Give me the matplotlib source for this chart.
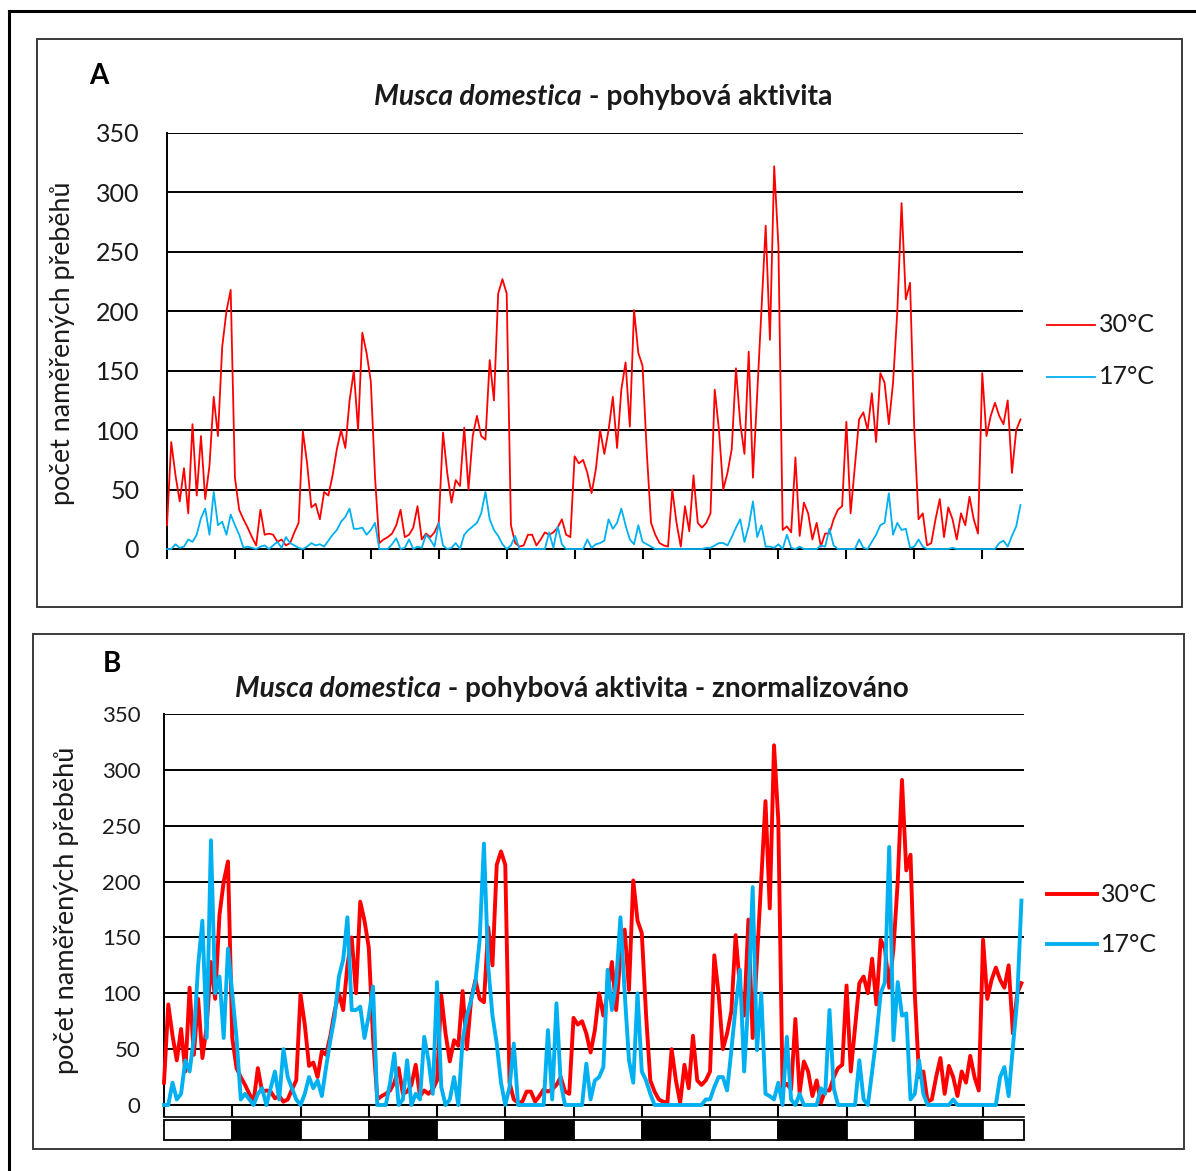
import matplotlib
matplotlib.use('Agg')
import matplotlib.pyplot as plt
from matplotlib.patches import Rectangle
from matplotlib.lines import Line2D
from matplotlib.transforms import blended_transform_factory
import numpy as np

plt.rcParams['font.family'] = ['Lato', 'DejaVu Sans']

# ---------------- data (45-min bins, 16 bins per 12 h) ----------------
bin_hours = 0.75
red_30 = [
    # day 0 / night 0
    20, 90, 62, 40, 68, 30, 105, 45, 95, 42, 70, 128, 95, 170, 200, 218,
    60, 33, 25, 18, 10, 3, 33, 12, 13, 12, 6, 8, 3, 5, 14, 22,
    # day 1 / night 1
    99, 72, 35, 38, 25, 48, 45, 62, 84, 100, 85, 125, 150, 100, 182, 165,
    141, 60, 5, 8, 10, 13, 20, 33, 10, 12, 18, 36, 8, 13, 10, 14,
    # day 2 / night 2
    22, 98, 64, 39, 58, 53, 102, 50, 95, 112, 95, 92, 159, 125, 215, 227,
    215, 20, 5, 2, 3, 12, 12, 3, 8, 14, 12, 14, 18, 25, 12, 10,
    # day 3 / night 3
    78, 72, 75, 64, 47, 67, 100, 80, 100, 128, 85, 134, 157, 103, 201, 165,
    154, 81, 22, 12, 5, 3, 2, 50, 22, 2, 36, 15, 62, 22, 18, 22,
    # day 4 / night 4
    30, 134, 100, 50, 64, 84, 152, 106, 80, 166, 60, 130, 201, 272, 176, 322,
    255, 16, 19, 14, 77, 11, 39, 30, 8, 22, 2, 13, 13, 25, 33, 36,
    # day 5 / night 5
    107, 30, 70, 109, 115, 100, 131, 90, 148, 140, 105, 140, 200, 291, 210, 224,
    100, 25, 30, 3, 5, 25, 42, 10, 35, 25, 8, 30, 20, 44, 25, 13,
    # day 6 (partial)
    148, 95, 112, 123, 112, 105, 125, 64, 100, 109,
]

blue_17 = [
    0, 0, 4, 1, 2, 8, 6, 12, 26, 34, 12, 48, 20, 23, 12, 29,
    20, 12, 1, 2, 1, 0, 2, 3, 0, 3, 6, 1, 10, 5, 3, 1,
    0, 2, 5, 3, 4, 2, 7, 12, 16, 23, 27, 34, 17, 17, 18, 12,
    16, 22, 0, 0, 0, 4, 9, 0, 1, 8, 0, 2, 1, 12, 8, 2,
    22, 3, 0, 1, 5, 0, 12, 16, 19, 22, 30, 48, 25, 16, 11, 4,
    0, 3, 11, 0, 0, 0, 0, 0, 0, 0, 14, 1, 19, 4, 0, 0,
    0, 0, 0, 8, 1, 4, 5, 7, 25, 17, 22, 34, 20, 8, 4, 20,
    6, 4, 2, 0, 0, 0, 0, 0, 0, 0, 0, 0, 0, 0, 0, 1,
    1, 3, 5, 5, 3, 10, 18, 25, 6, 19, 40, 10, 20, 2, 2, 1,
    4, 0, 12, 1, 0, 2, 0, 0, 0, 0, 3, 2, 17, 3, 0, 0,
    0, 0, 0, 8, 1, 0, 6, 12, 20, 22, 47, 12, 22, 16, 17, 1,
    2, 8, 2, 0, 0, 0, 0, 0, 0, 1, 0, 0, 0, 0, 0, 0,
    0, 0, 0, 0, 5, 7, 2, 11, 19, 37,
]

blue_17_norm = [
    0, 0, 20, 5, 10, 40, 30, 60, 125, 165, 60, 237, 100, 115, 60, 140,
    100, 60, 5, 10, 5, 0, 10, 15, 0, 15, 30, 5, 50, 25, 15, 5,
    0, 10, 25, 15, 22, 8, 34, 58, 79, 115, 130, 168, 85, 85, 88, 60,
    80, 106, 0, 0, 0, 20, 46, 0, 5, 40, 0, 10, 5, 61, 40, 10,
    110, 16, 0, 5, 25, 0, 58, 80, 94, 110, 148, 234, 124, 80, 55, 20,
    0, 16, 55, 0, 0, 0, 0, 0, 0, 0, 67, 5, 91, 20, 0, 0,
    0, 0, 0, 37, 5, 22, 25, 34, 121, 85, 110, 168, 100, 40, 20, 100,
    30, 22, 10, 0, 0, 0, 0, 0, 0, 0, 0, 0, 0, 0, 0, 5,
    5, 16, 25, 25, 13, 49, 88, 121, 30, 95, 195, 49, 100, 10, 8, 5,
    20, 0, 61, 5, 0, 10, 0, 0, 0, 0, 15, 10, 85, 15, 0, 0,
    0, 0, 0, 40, 5, 0, 30, 61, 100, 110, 231, 58, 110, 80, 82, 5,
    10, 40, 10, 0, 0, 0, 0, 0, 0, 5, 0, 0, 0, 0, 0, 0,
    0, 0, 0, 0, 25, 34, 8, 52, 94, 183,
]

series_labels = ['30°C', '17°C']
y_ticks = [0, 50, 100, 150, 200, 250, 300, 350]
light_phases = ['light', 'dark'] * 6 + ['light']
phase_hours = 12
title_italic = 'Musca domestica'
title_A_rest = ' - pohybová aktivita'
title_B_rest = ' - pohybová aktivita - znormalizováno'
ylabel = 'počet naměřených přeběhů'

time_h = np.arange(len(red_30)) * bin_hours
x_max = 151.2

RED = '#FF0000'
BLUE = '#00B0F0'
TXT = '#1a1a1a'

W, H = 1196, 1171
fig = plt.figure(figsize=(W / 100, H / 100), dpi=100)


def fx(px):
    return px / W


def fy(py):
    return 1 - py / H


def frame(x0, y0, x1, y1, lw, color):
    fig.add_artist(Rectangle((fx(x0), fy(y1)), fx(x1) - fx(x0), fy(y0) - fy(y1),
                             transform=fig.transFigure, fill=False, lw=lw,
                             edgecolor=color, zorder=0))


# outer frame (partially outside the image)
fig.add_artist(Line2D([fx(9), fx(9)], [fy(11), fy(1200)], transform=fig.transFigure,
                      color='black', lw=2.2))
fig.add_artist(Line2D([fx(9), fx(1210)], [fy(11), fy(11)], transform=fig.transFigure,
                      color='black', lw=2.2))
frame(37, 39, 1182, 607, 1.4, '#3a3a3a')
frame(33, 634, 1184, 1149, 1.4, '#3a3a3a')


def style_axes(ax, tick_len, label_size, pad):
    ax.set_xlim(0, x_max)
    ax.set_ylim(0, 350)
    ax.set_yticks(y_ticks)
    ax.set_xticks(np.arange(0, x_max, phase_hours))
    ax.set_xticklabels([])
    ax.yaxis.grid(True, color='black', lw=1.4)
    ax.set_axisbelow(True)
    for s in ['top', 'right']:
        ax.spines[s].set_visible(False)
    for s in ['left', 'bottom']:
        ax.spines[s].set_color('black')
        ax.spines[s].set_linewidth(1.4)
    ax.tick_params(axis='y', length=0, pad=pad, labelsize=label_size, colors=TXT)
    ax.tick_params(axis='x', length=tick_len, width=1.5, direction='out', color='black')


def mixed_title(cx, cy, part1, part2, size):
    r = fig.canvas.get_renderer()
    t1 = fig.text(0, fy(cy), part1, fontsize=size, fontweight='bold', fontstyle='italic',
                  va='center', ha='left', color=TXT)
    t2 = fig.text(0, fy(cy), part2, fontsize=size, fontweight='bold', va='center', ha='left',
                  color=TXT)
    w1 = t1.get_window_extent(r).width
    w2 = t2.get_window_extent(r).width
    x0 = cx - (w1 + w2) / 2
    t1.set_x(fx(x0))
    t2.set_x(fx(x0 + w1))


def legend(x0, x1, ys, lw, size):
    for (y, col, lab) in zip(ys, [RED, BLUE], series_labels):
        fig.add_artist(Line2D([fx(x0), fx(x1)], [fy(y), fy(y)], transform=fig.transFigure,
                              color=col, lw=lw))
        fig.text(fx(x1 + 4), fy(y), lab, fontsize=size, va='center', ha='left', color=TXT)


# ---------------- panel A ----------------
axA = fig.add_axes([fx(167), fy(549), fx(1023) - fx(167), fy(133) - fy(549)])
style_axes(axA, 7.5, 18, 20)
axA.plot(time_h, red_30, color=RED, lw=1.3, clip_on=False, zorder=3)
axA.plot(time_h, blue_17, color=BLUE, lw=1.3, clip_on=False, zorder=4)
fig.text(fx(99), fy(76), 'A', fontsize=20, fontweight='bold', ha='center', va='center')
mixed_title(603, 97, title_italic, title_A_rest, 20.3)
fig.text(fx(63), fy(343), ylabel, fontsize=19.3, rotation=90, ha='center', va='center',
         color=TXT)
legend(1047, 1095, [325, 377], 1.3, 18)

# ---------------- panel B ----------------
axB = fig.add_axes([fx(164), fy(1105), fx(1024) - fx(164), fy(714) - fy(1105)])
style_axes(axB, 8.6, 16, 17)
axB.plot(time_h, red_30, color=RED, lw=2.8, clip_on=False, zorder=3)
axB.plot(time_h, blue_17_norm, color=BLUE, lw=2.8, clip_on=False, zorder=4)
fig.text(fx(112), fy(664), 'B', fontsize=20, fontweight='bold', ha='center', va='center')
mixed_title(572, 689, title_italic, title_B_rest, 20.2)
fig.text(fx(67), fy(910), ylabel, fontsize=19.6, rotation=90, ha='center', va='center',
         color=TXT)
legend(1047, 1097, [894, 944], 2.8, 18)

# light / dark bar under panel B
trB = blended_transform_factory(axB.transData, axB.transAxes)
axh = 391.0
row1_y = -12 / axh
axB.plot([0, x_max], [row1_y, row1_y], transform=trB, color='black', lw=1.2, clip_on=False)
r2_top = -15 / axh
r2_bot = -35 / axh
for k, ph in enumerate(light_phases):
    x0 = k * phase_hours
    x1 = min((k + 1) * phase_hours, x_max)
    axB.add_patch(Rectangle((x0, r2_bot), x1 - x0, r2_top - r2_bot, transform=trB,
                            facecolor='black' if ph == 'dark' else 'white',
                            edgecolor='black', lw=1.3, clip_on=False))

fig.savefig('out.png', dpi=100)
